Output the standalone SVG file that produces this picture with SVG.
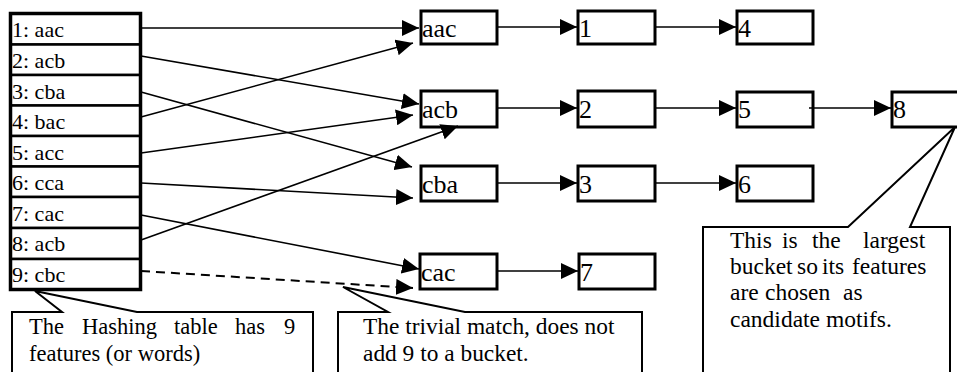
<svg xmlns="http://www.w3.org/2000/svg" width="957" height="372" viewBox="0 0 957 372">
  <defs>
    <marker id="head" markerUnits="userSpaceOnUse" markerWidth="18" markerHeight="16" refX="17" refY="8" orient="auto">
      <path d="M0,0 L17,8 L0,16 Z" fill="#000"/>
    </marker>
  </defs>

  <rect width="957" height="372" fill="#fff"/>

  <!-- hashing table: one cell per feature -->
  <g id="table" fill="#fff" stroke="#000" stroke-width="2.5">
    <rect x="10" y="13" width="131" height="277"/>
    <rect id="row1" x="11" y="14" width="129" height="30.5"/>
    <rect id="row2" x="11" y="44.5" width="129" height="30.5"/>
    <rect id="row3" x="11" y="75" width="129" height="30.5"/>
    <rect id="row4" x="11" y="105.5" width="129" height="30.5"/>
    <rect id="row5" x="11" y="136" width="129" height="30.5"/>
    <rect id="row6" x="11" y="166.5" width="129" height="30.5"/>
    <rect id="row7" x="11" y="197" width="129" height="31"/>
    <rect id="row8" x="11" y="228" width="129" height="31"/>
    <rect id="row9" x="11" y="259" width="129" height="30"/>
  </g>
  <text font-family="Liberation Serif" font-size="22" x="12" y="37">1: aac</text>
  <text font-family="Liberation Serif" font-size="22" x="12" y="68">2: acb</text>
  <text font-family="Liberation Serif" font-size="22" x="12" y="99">3: cba</text>
  <text font-family="Liberation Serif" font-size="22" x="12" y="129">4: bac</text>
  <text font-family="Liberation Serif" font-size="22" x="12" y="160">5: acc</text>
  <text font-family="Liberation Serif" font-size="22" x="12" y="190">6: cca</text>
  <text font-family="Liberation Serif" font-size="22" x="12" y="221">7: cac</text>
  <text font-family="Liberation Serif" font-size="22" x="12" y="251">8: acb</text>
  <text font-family="Liberation Serif" font-size="22" x="12" y="282">9: cbc</text>

  <!-- buckets -->
  <g id="buckets" fill="#fff" stroke="#000" stroke-width="3">
    <rect id="b-aac" x="421" y="11" width="76" height="33"/>
    <rect id="b-aac-1" x="578" y="11" width="77" height="33"/>
    <rect id="b-aac-4" x="737" y="11" width="76" height="33"/>
    <rect id="b-acb" x="421" y="91" width="76" height="36"/>
    <rect id="b-acb-2" x="578" y="91" width="77" height="36"/>
    <rect id="b-acb-5" x="737" y="92" width="76" height="35"/>
    <rect id="b-acb-8" x="892" y="92" width="70" height="35"/>
    <rect id="b-cba" x="421" y="166" width="76" height="35"/>
    <rect id="b-cba-3" x="578" y="166" width="77" height="35"/>
    <rect id="b-cba-6" x="737" y="166" width="76" height="35"/>
    <rect id="b-cac" x="420" y="254" width="77" height="35"/>
    <rect id="b-cac-7" x="579" y="254" width="76" height="35"/>
  </g>
  <text font-family="Liberation Serif" font-size="26" x="422" y="37">aac</text>
  <text font-family="Liberation Serif" font-size="26" x="579" y="37">1</text>
  <text font-family="Liberation Serif" font-size="26" x="738" y="37">4</text>
  <text font-family="Liberation Serif" font-size="26" x="422" y="118">acb</text>
  <text font-family="Liberation Serif" font-size="26" x="579" y="118">2</text>
  <text font-family="Liberation Serif" font-size="26" x="738" y="118">5</text>
  <text font-family="Liberation Serif" font-size="26" x="893" y="118">8</text>
  <text font-family="Liberation Serif" font-size="26" x="422" y="193">cba</text>
  <text font-family="Liberation Serif" font-size="26" x="579" y="193">3</text>
  <text font-family="Liberation Serif" font-size="26" x="738" y="193">6</text>
  <text font-family="Liberation Serif" font-size="26" x="421" y="281">cac</text>
  <text font-family="Liberation Serif" font-size="26" x="580" y="281">7</text>

  <!-- callouts -->
  <g id="callouts" fill="#fff" stroke="#000" stroke-width="2">
    <path id="note-table" d="M12,380 L12,312 L62,312 L35,291 L137,312 L313,312 L313,380"/>
    <path id="note-trivial" d="M338,380 L338,312 L388,312 L343,287 L465,312 L642,312 L642,380"/>
    <path id="note-largest" d="M703,380 L703,227 L848,227 L955,127 L910,227 L950,227 L950,380"/>
  </g>
  <text font-family="Liberation Serif" font-size="22.5" y="334"><tspan x="29">The</tspan><tspan x="82">Hashing</tspan><tspan x="174">table</tspan><tspan x="235">has</tspan><tspan x="284">9</tspan></text>
  <text font-family="Liberation Serif" font-size="22.5" x="29" y="361">features (or words)</text>
  <text font-family="Liberation Serif" font-size="23.4" x="363" y="334">The trivial match, does not</text>
  <text font-family="Liberation Serif" font-size="23.4" x="363" y="361">add 9 to a bucket.</text>
  <text font-family="Liberation Serif" font-size="23.5" y="248"><tspan x="730">This</tspan><tspan x="782">is</tspan><tspan x="812">the</tspan><tspan x="863">largest</tspan></text>
  <text font-family="Liberation Serif" font-size="23.5" y="274"><tspan x="730">bucket</tspan><tspan x="797">so</tspan><tspan x="822">its</tspan><tspan x="852">features</tspan></text>
  <text font-family="Liberation Serif" font-size="23.5" y="300"><tspan x="730">are</tspan><tspan x="765">chosen</tspan><tspan x="843">as</tspan></text>
  <text font-family="Liberation Serif" font-size="23.5" x="730" y="327">candidate motifs.</text>

  <!-- connectors -->
  <g id="connectors" fill="none" stroke="#000" stroke-width="1.6" marker-end="url(#head)">
    <line x1="141" y1="28" x2="419" y2="28"/>
    <line x1="141" y1="56" x2="419" y2="104"/>
    <line x1="141" y1="92" x2="412" y2="167"/>
    <line x1="141" y1="117" x2="413" y2="43"/>
    <line x1="141" y1="153" x2="413" y2="115"/>
    <line x1="141" y1="183" x2="413" y2="198"/>
    <line x1="141" y1="215" x2="419" y2="269"/>
    <line x1="141" y1="240" x2="458" y2="126"/>
    <line x1="141" y1="271" x2="413" y2="288" stroke-dasharray="9 6" stroke-width="2"/>

    <line x1="497" y1="27" x2="577" y2="27"/>
    <line x1="655" y1="27" x2="736" y2="27"/>
    <line x1="497" y1="108" x2="577" y2="108"/>
    <line x1="655" y1="108" x2="736" y2="108"/>
    <line x1="809" y1="108" x2="891" y2="108"/>
    <line x1="497" y1="183" x2="577" y2="183"/>
    <line x1="655" y1="183" x2="736" y2="183"/>
    <line x1="497" y1="271" x2="578" y2="271"/>
  </g>
</svg>
